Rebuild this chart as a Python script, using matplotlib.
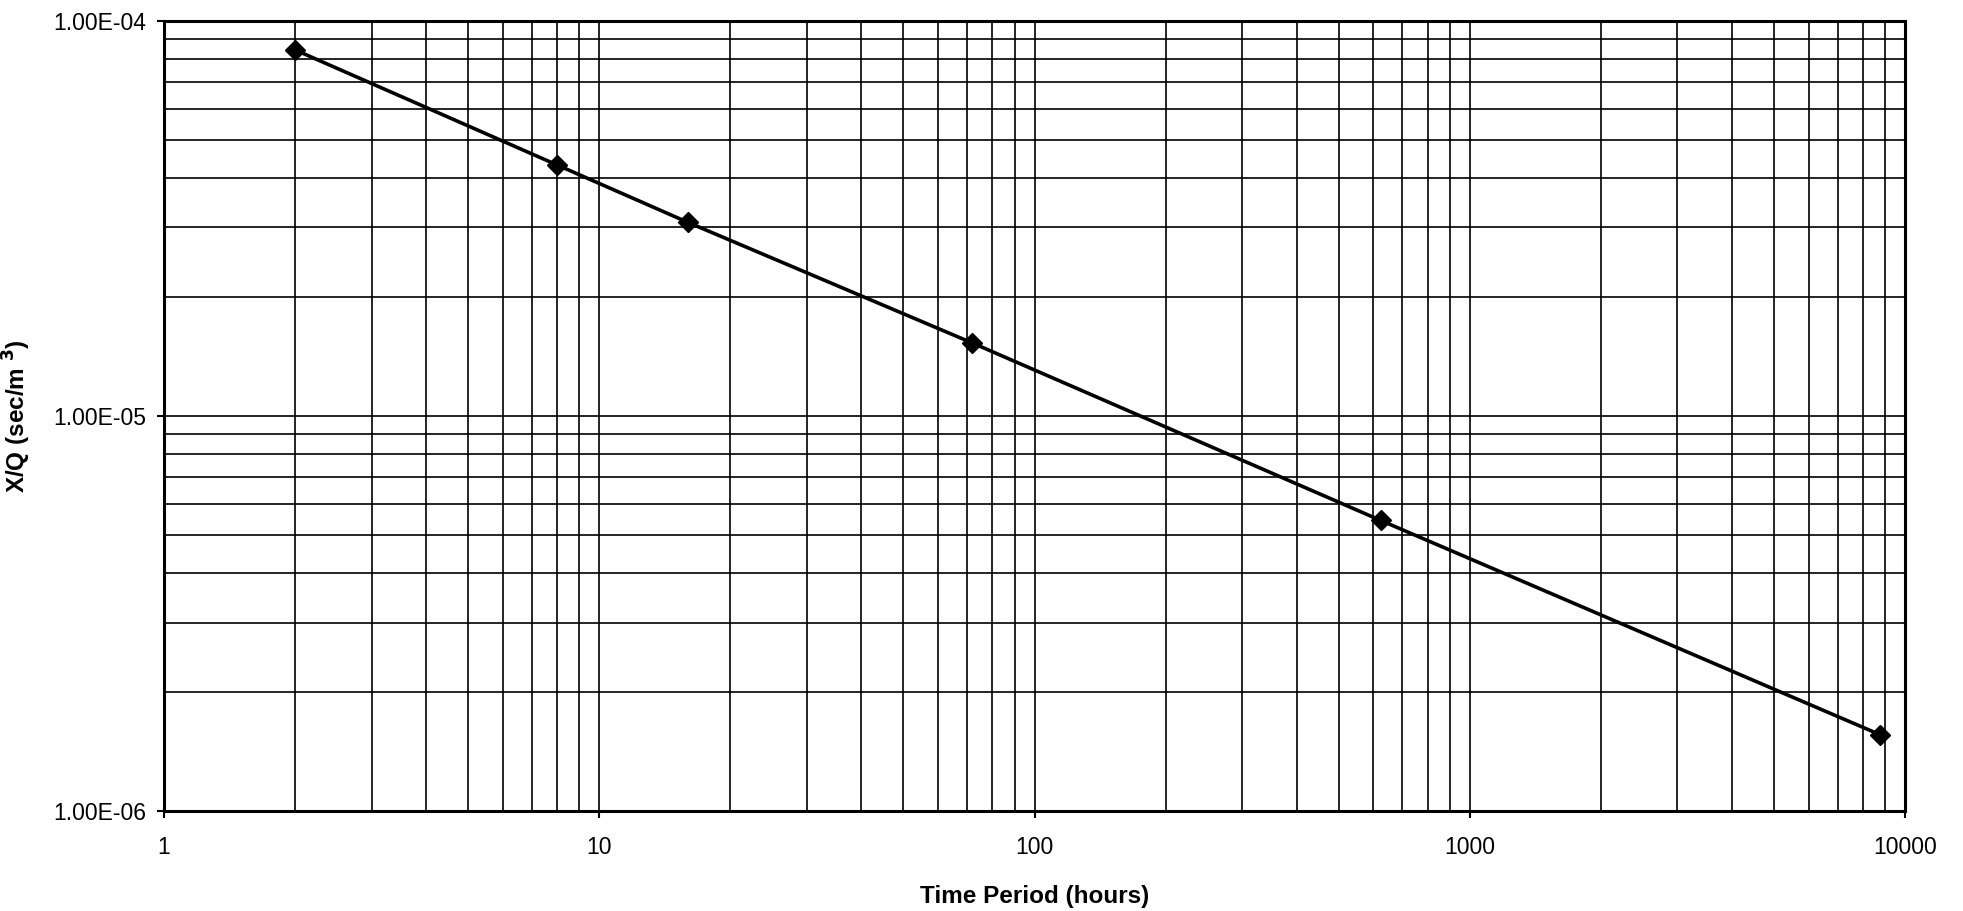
import matplotlib
matplotlib.use("Agg")
import matplotlib.pyplot as plt
from matplotlib.ticker import LogLocator, FuncFormatter, NullFormatter

# X/Q values versus averaging time period
time_hours = [2, 8, 16, 72, 624, 8760]
xq_values = [8.45e-5, 4.32e-5, 3.09e-5, 1.53e-5, 5.44e-6, 1.56e-6]

x_ticks = [1, 10, 100, 1000, 10000]
y_ticks = [1e-6, 1e-5, 1e-4]

plt.rcParams['font.family'] = ['Liberation Sans', 'DejaVu Sans']

fig = plt.figure(figsize=(19.63, 9.11), dpi=100)
ax = fig.add_axes([0.0835, 0.1098, 0.887, 0.8672])

ax.plot(time_hours, xq_values, color='black', linewidth=2.6,
        marker='D', markersize=10, markerfacecolor='black',
        markeredgecolor='black', zorder=3)

ax.set_xscale('log')
ax.set_yscale('log')
ax.set_xlim(1, 10000)
ax.set_ylim(1e-6, 1e-4)

ax.set_xticks(x_ticks)
ax.xaxis.set_major_formatter(FuncFormatter(lambda v, p: f"{v:g}"))
ax.set_yticks(y_ticks)
ax.yaxis.set_major_formatter(FuncFormatter(lambda v, p: f"{v:.2E}"))
ax.xaxis.set_minor_locator(LogLocator(base=10, subs=range(2, 10), numticks=20))
ax.yaxis.set_minor_locator(LogLocator(base=10, subs=range(2, 10), numticks=20))
ax.xaxis.set_minor_formatter(NullFormatter())
ax.yaxis.set_minor_formatter(NullFormatter())

ax.grid(True, which='both', color='black', linewidth=1.2)
ax.set_axisbelow(True)

ax.tick_params(axis='both', which='major', direction='out', length=5,
               width=1.5, labelsize=16.5, colors='black')
ax.tick_params(axis='x', which='major', pad=13)
ax.tick_params(axis='y', which='major', pad=8)
ax.tick_params(axis='both', which='minor', length=0)

for spine in ax.spines.values():
    spine.set_linewidth(2.2)
    spine.set_color('black')

ax.set_xlabel('Time Period (hours)', fontsize=17.5, fontweight='bold', va='top')
ax.xaxis.set_label_coords(0.5, -0.094)
ax.set_ylabel('X/Q (sec/m $^{\\mathbf{3}}$)', fontsize=17.5, fontweight='bold')
ax.yaxis.set_label_coords(-0.075, 0.5)

fig.savefig('out.png', dpi=100, facecolor='white')
